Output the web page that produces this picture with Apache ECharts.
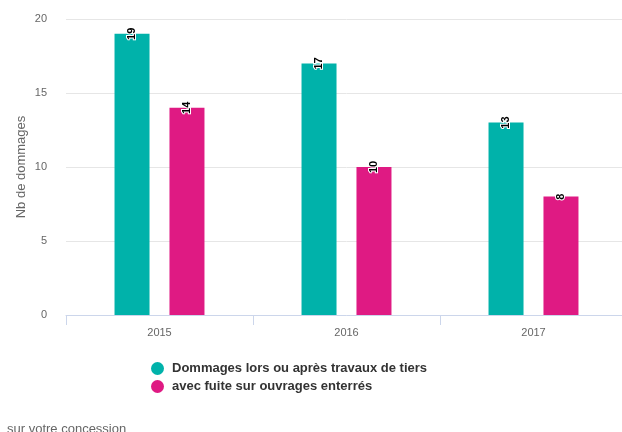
<!DOCTYPE html>
<html><head><meta charset="utf-8">
<script src="https://cdn.jsdelivr.net/npm/echarts@6/dist/echarts.min.js"></script>
<style>html,body{margin:0;padding:0;background:#fff;overflow:hidden}#c{width:627px;height:432px}</style>
</head><body><div id="c"></div>
<script>
const categories = ['2015', '2016', '2017'];
const seriesNames = ['Dommages lors ou après travaux de tiers', 'avec fuite sur ouvrages enterrés'];
const dommages = [19, 17, 13];
const avecFuite = [14, 10, 8];
const yTicks = [0, 5, 10, 15, 20];

const chart = echarts.init(document.getElementById('c'), null, {renderer: 'canvas'});
const font = '"Liberation Sans",Arial,Helvetica,sans-serif';
const label = {
  show: true, position: 'top', distance: 0, rotate: 90,
  align: 'center', verticalAlign: 'middle',
  color: '#000', fontSize: 11, fontWeight: 'bold', fontFamily: font,
  textBorderColor: '#fff', textBorderWidth: 2
};
chart.setOption({
  animation: false,
  textStyle: {fontFamily: font},
  grid: {left: 66, top: 19, right: 0, bottom: 117, containLabel: false},
  legend: {
    orient: 'vertical', left: 146, top: 357, itemGap: 5,
    icon: 'circle', itemWidth: 13, itemHeight: 13,
    textStyle: {color: '#333', fontSize: 13, fontWeight: 'bold', fontFamily: font, padding: [0, 0, 0, 3]},
    data: seriesNames
  },
  graphic: [{
    type: 'text', left: 7, top: 423,
    style: {text: 'sur votre concession', fill: '#666', fontSize: 13, fontFamily: font}
  }],
  xAxis: {
    type: 'category', data: categories,
    axisLine: {lineStyle: {color: '#ccd6eb'}},
    axisTick: {show: true, length: 10, lineStyle: {color: '#ccd6eb'}},
    axisLabel: {color: '#666', fontSize: 11, margin: 12}
  },
  yAxis: {
    type: 'value', min: yTicks[0], max: yTicks[yTicks.length - 1], interval: 5,
    name: 'Nb de dommages', nameLocation: 'middle', nameGap: 38, nameMoveOverlap: false,
    nameTextStyle: {color: '#666', fontSize: 13},
    axisLabel: {color: '#666', fontSize: 11, margin: 19},
    splitLine: {lineStyle: {color: '#e6e6e6'}},
    axisLine: {show: false}, axisTick: {show: false}
  },
  series: [
    {name: seriesNames[0], type: 'bar', data: dommages, barWidth: 35, barGap: '57%',
     itemStyle: {color: '#00b2aa'}, label: label},
    {name: seriesNames[1], type: 'bar', data: avecFuite, barWidth: 35,
     itemStyle: {color: '#df1a83'}, label: label}
  ]
});
</script></body></html>
